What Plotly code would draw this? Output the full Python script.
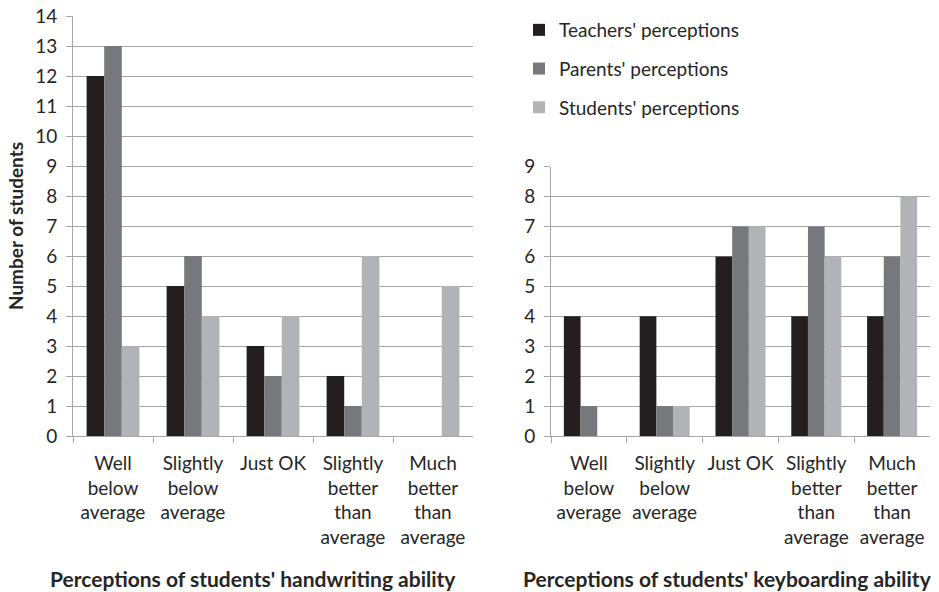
import plotly.graph_objects as go

# Category labels shared by both panels
categories = ["Well below average", "Slightly below average", "Just OK",
              "Slightly better than average", "Much better than average"]
tick_labels = ["Well<br>below<br>average", "Slightly<br>below<br>average", "Just OK",
               "Slightly<br>better<br>than<br>average", "Much<br>better<br>than<br>average"]

series_names = ["Teachers' perceptions", "Parents' perceptions", "Students' perceptions"]

# Handwriting ability counts
hw_teachers = [12, 5, 3, 2, 0]
hw_parents = [13, 6, 2, 1, 0]
hw_students = [3, 4, 4, 6, 5]

# Keyboarding ability counts
kb_teachers = [4, 4, 6, 4, 4]
kb_parents = [1, 1, 7, 7, 6]
kb_students = [0, 1, 7, 6, 8]

colors = ["#231f20", "#77787b", "#b1b3b6"]
W, H = 939, 592
FONT = "Lato"
TXT = "#262626"
GRID = "#a6a6a6"
FS = 19

fig = go.Figure()
for i, (name, hw, kb) in enumerate(zip(series_names,
                                       [hw_teachers, hw_parents, hw_students],
                                       [kb_teachers, kb_parents, kb_students])):
    fig.add_trace(go.Bar(x=categories, y=hw, name=name, marker_color=colors[i],
                         marker_line_width=0, legendgroup=name, showlegend=True,
                         xaxis="x", yaxis="y"))
    fig.add_trace(go.Bar(x=categories, y=kb, name=name, marker_color=colors[i],
                         marker_line_width=0, legendgroup=name, showlegend=False,
                         xaxis="x2", yaxis="y2"))

def px_x(v):
    return v / W

def px_y(v):
    return (H - v) / H

axis_common = dict(
    showline=True, linecolor=GRID, linewidth=1,
    ticks="outside", ticklen=6, tickcolor=GRID, automargin=False,
    tickfont=dict(family=FONT, size=FS, color=TXT),
)

xaxis_common = dict(tickmode="array", tickvals=categories, ticktext=tick_labels,
                    tickson="boundaries", showgrid=False, ticklabelstandoff=10,
                    **axis_common)
yaxis_common = dict(dtick=1, showgrid=True, gridcolor=GRID, gridwidth=1,
                    zeroline=False, ticklabelstandoff=5, **axis_common)

fig.update_layout(
    width=W, height=H,
    margin=dict(l=0, r=0, t=0, b=0),
    plot_bgcolor="white", paper_bgcolor="white",
    barmode="group", bargap=0.34, bargroupgap=0,
    font=dict(family=FONT, color=TXT),
    xaxis=dict(domain=[px_x(73), px_x(473)], anchor="y", **xaxis_common),
    yaxis=dict(domain=[px_y(436), px_y(16)], anchor="x", range=[0, 14],
               title=dict(text="<b>Number of students</b>",
                          font=dict(family=FONT, size=FS, color=TXT), standoff=6),
               **yaxis_common),
    xaxis2=dict(domain=[px_x(551), px_x(930)], anchor="y2", **xaxis_common),
    yaxis2=dict(domain=[px_y(436), px_y(166.7)], anchor="x2", range=[0, 9],
                **yaxis_common),
    legend=dict(x=px_x(519), y=px_y(11), xanchor="left", yanchor="top",
                font=dict(family=FONT, size=FS, color=TXT),
                tracegroupgap=11, bgcolor="rgba(0,0,0,0)"),
    annotations=[
        dict(text="<b>Perceptions of students' handwriting ability</b>",
             x=px_x(253), y=px_y(578), xref="paper", yref="paper",
             showarrow=False, xanchor="center", yanchor="middle",
             font=dict(family=FONT, size=21, color=TXT)),
        dict(text="<b>Perceptions of students' keyboarding ability</b>",
             x=px_x(727), y=px_y(578), xref="paper", yref="paper",
             showarrow=False, xanchor="center", yanchor="middle",
             font=dict(family=FONT, size=21, color=TXT)),
    ],
)

fig.write_html("out.html")
